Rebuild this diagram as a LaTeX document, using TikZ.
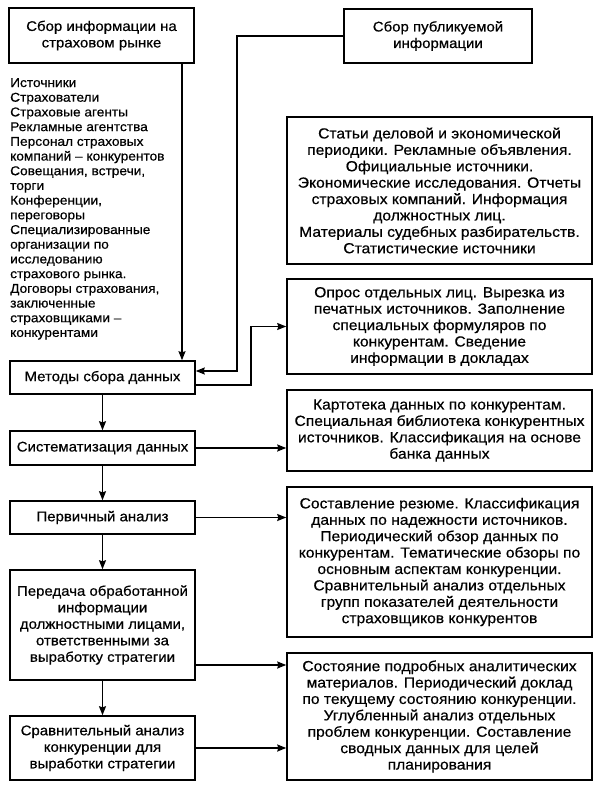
\documentclass[tikz,border=0pt]{standalone}
\usepackage{fontspec}
\setmainfont[FakeStretch=1.07,FakeBold=0.5]{Liberation Sans}
\usetikzlibrary{arrows.meta}
\tikzset{
  box/.style={draw, line width=1.5pt, rectangle, inner sep=0pt, align=center,
    font=\fontsize{14}{16.5}\selectfont},
  rbox/.style={box, font=\fontsize{14.6}{16.4}\selectfont},
  arr/.style={line width=1.4pt, -{Stealth[length=9pt,width=7pt,inset=1pt]}},
  ln/.style={line width=1.4pt}
}
\begin{document}
\begin{tikzpicture}[x=1pt,y=-1pt]
\useasboundingbox (0,0) rectangle (600,792);
% top boxes
\node[box, minimum width=185pt, minimum height=55pt] (b1) at (101.5,35.5)
  {Сбор информации на\\страховом рынке};
\node[box, minimum width=188pt, minimum height=54pt] (b2) at (438,36)
  {Сбор публикуемой\\информации};
% left list
\node[anchor=north west, inner sep=0pt, align=left,
  font=\fontsize{12.8}{14.7}\selectfont] (list) at (10,78)
  {Источники\\Страхователи\\Страховые агенты\\Рекламные агентства\\Персонал страховых\\компаний – конкурентов\\Совещания, встречи,\\торги\\Конференции,\\переговоры\\Специализированные\\организации по\\исследованию\\страхового рынка.\\Договоры страхования,\\заключенные\\страховщиками –\\конкурентами};
% right boxes
\node[rbox, minimum width=305pt, minimum height=147pt] (r1) at (439.5,190.5)
  {Статьи деловой и экономической\\периодики. Рекламные объявления.\\Официальные источники.\\Экономические исследования. Отчеты\\страховых компаний. Информация\\должностных лиц.\\Материалы судебных разбирательств.\\Статистические источники};
\node[rbox, minimum width=305pt, minimum height=95pt] (r2) at (439.5,326.5)
  {Опрос отдельных лиц. Вырезка из\\печатных источников. Заполнение\\специальных формуляров по\\конкурентам. Сведение\\информации в докладах};
\node[rbox, minimum width=305pt, minimum height=81pt] (r3) at (439.5,430.5)
  {Картотека данных по конкурентам.\\Специальная библиотека конкурентных\\источников. Классификация на основе\\банка данных};
\node[rbox, minimum width=305pt, minimum height=150pt] (r4) at (439.5,562)
  {Составление резюме. Классификация\\данных по надежности источников.\\Периодический обзор данных по\\конкурентам. Тематические обзоры по\\основным аспектам конкуренции.\\Сравнительный анализ отдельных\\групп показателей деятельности\\страховщиков конкурентов};
\node[rbox, minimum width=305pt, minimum height=127pt] (r5) at (439.5,716.5)
  {Состояние подробных аналитических\\материалов. Периодический доклад\\по текущему состоянию конкуренции.\\Углубленный анализ отдельных\\проблем конкуренции. Составление\\сводных данных для целей\\планирования};
% left column boxes
\node[box, minimum width=185pt, minimum height=33pt] (l1) at (102.5,377.5)
  {Методы сбора данных};
\node[box, minimum width=185pt, minimum height=34pt] (l2) at (102.5,448)
  {Систематизация данных};
\node[box, minimum width=185pt, minimum height=33pt] (l3) at (102.5,517.5)
  {Первичный анализ};
\node[box, minimum width=185pt, minimum height=110pt] (l4) at (102.5,625)
  {Передача обработанной\\информации\\должностными лицами,\\ответственными за\\выработку стратегии};
\node[box, minimum width=185pt, minimum height=64pt] (l5) at (102.5,748)
  {Сравнительный анализ\\конкуренции для\\выработки стратегии};
% helper coordinates
\coordinate (c1) at (182,0);
\coordinate (c2) at (237,371);
\coordinate (c3) at (251,385);
\coordinate (c4) at (0,665);
% connectors
\draw[arr] (b1.south -| c1) -- (l1.north -| c1);
\draw[arr] (b2.west) -| (c2) -- (c2 -| l1.east);
\draw[arr] (l1.east |- c3) -- (c3) |- (r2.west);
\draw[arr] (l1) -- (l2);
\draw[arr] (l2) -- (l3);
\draw[arr] (l3) -- (l4);
\draw[arr] (l4) -- (l5);
\draw[arr] (l2.east) -- (l2.east -| r3.west);
\draw[arr] (l3.east) -- (l3.east -| r4.west);
\draw[arr] (l4.east |- c4) -- (c4 -| r5.west);
\draw[arr] (l5.east) -- (l5.east -| r5.west);
\end{tikzpicture}
\end{document}
